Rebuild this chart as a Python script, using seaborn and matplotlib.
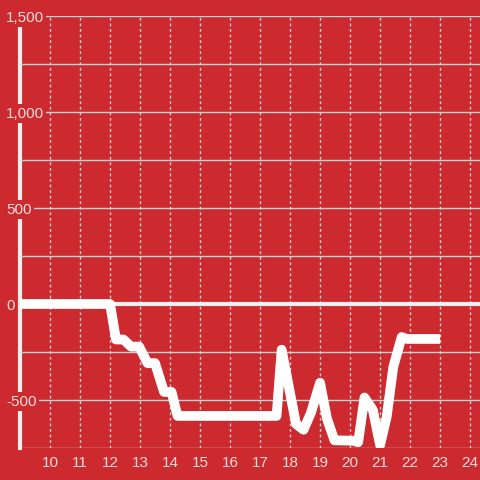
import numpy as np
import pandas as pd
import matplotlib
matplotlib.use('Agg')
import matplotlib.pyplot as plt
import seaborn as sns
from matplotlib.ticker import MultipleLocator, FuncFormatter

# data
hours = [9.0, 12.0, 12.2, 12.45, 12.7, 12.97, 13.25, 13.5, 13.8, 14.05, 14.25,
         17.55, 17.72, 18.2, 18.45, 18.7, 19.0, 19.23, 19.48, 20.1, 20.27,
         20.48, 20.76, 21.0, 21.22, 21.44, 21.72, 21.9, 23.0]
values = [0, 0, -185, -185, -222, -222, -308, -308, -458, -458, -583,
          -583, -238, -625, -655, -565, -410, -597, -710, -712, -720,
          -487, -552, -735, -588, -328, -172, -182, -182]
y_ticks = [-500, 0, 500, 1000, 1500]
x_ticks = list(range(10, 25))

red = '#cc2a2f'
txt = '#f3dcdc'
grid = '#d6d0d0'

df = pd.DataFrame({'hour': hours, 'value': values})

sns.set_style('white')
plt.rcParams['font.family'] = ['Liberation Sans', 'DejaVu Sans']

fig = plt.figure(figsize=(4.8, 4.8), dpi=100, facecolor=red)
ax = fig.add_axes([20/480, 32/480, 460/480, 432/480])
ax.set_facecolor(red)

sns.lineplot(data=df, x='hour', y='value', ax=ax, color='white', lw=7,
             solid_joinstyle='round', solid_capstyle='butt', zorder=4)
ax.axhline(0, color='#f4efef', lw=3, zorder=3)

ax.set_xlim(9.0, 24.33)
ax.set_ylim(-750, 1500)
ax.set_xticks(x_ticks)
ax.set_yticks(y_ticks)
ax.yaxis.set_minor_locator(MultipleLocator(250))
ax.yaxis.set_major_formatter(FuncFormatter(lambda v, p: f'{v:,.0f}'))
ax.set_xlabel('')
ax.set_ylabel('')

ax.grid(axis='y', which='both', color=grid, lw=1, ls='-')
ax.grid(axis='x', which='major', color=grid, lw=1, ls=(0, (2, 2)))
ax.set_axisbelow(True)

for s in ['top', 'right', 'bottom']:
    ax.spines[s].set_visible(False)
ax.spines['left'].set_color('#f2eeee')
ax.spines['left'].set_linewidth(3)
ax.spines['left'].set_zorder(0.3)

ax.tick_params(axis='both', which='both', length=0, labelsize=11, colors=txt)
ax.tick_params(axis='y', pad=10)
ax.tick_params(axis='x', pad=6)
for lbl in ax.get_yticklabels():
    lbl.set_ha('left')
    lbl.set_bbox(dict(facecolor=red, edgecolor='none', pad=1.5))

fig.savefig('out.png', dpi=100, facecolor=red)
